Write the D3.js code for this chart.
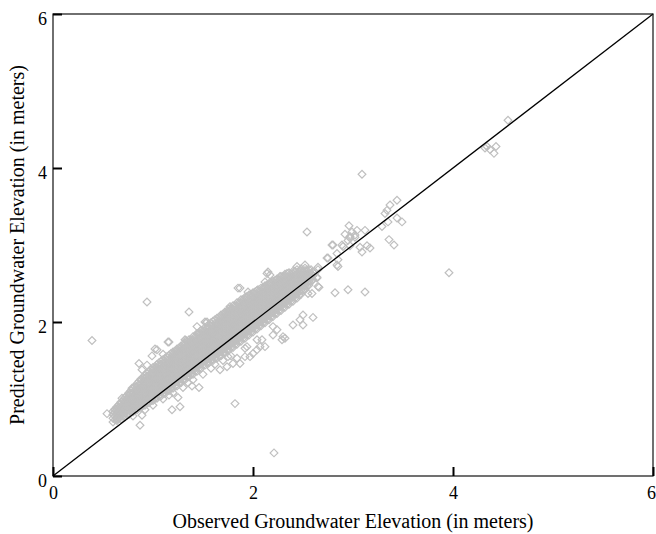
<!DOCTYPE html>
<html>
<head>
<meta charset="utf-8">
<script src="https://cdn.jsdelivr.net/npm/d3@7"></script>
<style>
  body { margin: 0; background: #fff; }
  text { font-family: "Liberation Serif", "Times New Roman", serif; fill: #000; }
</style>
</head>
<body>
<svg id="chart" width="656" height="534"></svg>
<script>
const xTicks = [0, 2, 4, 6];
const yTicks = [0, 2, 4, 6];
const xTitle = 'Observed Groundwater Elevation (in meters)';
const yTitle = 'Predicted Groundwater Elevation (in meters)';

// dense part of the cloud, read column by column: [observed, [predicted...]]
const denseColumns = [
  [0.60, [0.70, 0.75, 0.80, 0.84]],
  [0.62, [0.73, 0.78, 0.83, 0.87]],
  [0.64, [0.72, 0.77, 0.82, 0.87, 0.90]],
  [0.66, [0.75, 0.80, 0.85, 0.90, 0.93]],
  [0.68, [0.74, 0.79, 0.84, 0.89, 0.94, 0.96]],
  [0.70, [0.78, 0.83, 0.88, 0.93, 0.98]],
  [0.72, [0.77, 0.82, 0.87, 0.92, 0.97, 1.02]],
  [0.74, [0.80, 0.85, 0.90, 0.95, 1.00, 1.05]],
  [0.76, [0.80, 0.85, 0.90, 0.95, 1.00, 1.05, 1.08]],
  [0.78, [0.83, 0.88, 0.93, 0.98, 1.03, 1.08, 1.11]],
  [0.80, [0.83, 0.88, 0.93, 0.98, 1.03, 1.08, 1.14]],
  [0.82, [0.86, 0.91, 0.96, 1.01, 1.06, 1.11, 1.16]],
  [0.84, [0.86, 0.91, 0.96, 1.01, 1.06, 1.11, 1.16, 1.20]],
  [0.86, [0.89, 0.94, 0.99, 1.04, 1.09, 1.14, 1.19, 1.23]],
  [0.88, [0.89, 0.94, 0.99, 1.04, 1.09, 1.14, 1.19, 1.24, 1.26]],
  [0.90, [0.92, 0.97, 1.02, 1.07, 1.12, 1.17, 1.22, 1.27]],
  [0.92, [0.92, 0.97, 1.02, 1.07, 1.12, 1.17, 1.22, 1.27, 1.31]],
  [0.94, [0.95, 1.00, 1.05, 1.10, 1.15, 1.20, 1.25, 1.30, 1.33]],
  [0.96, [0.95, 1.00, 1.05, 1.10, 1.15, 1.20, 1.25, 1.30, 1.36]],
  [0.98, [0.98, 1.03, 1.08, 1.13, 1.18, 1.23, 1.28, 1.33, 1.38]],
  [1.00, [0.98, 1.03, 1.08, 1.13, 1.18, 1.23, 1.28, 1.33, 1.38, 1.41]],
  [1.02, [1.01, 1.06, 1.11, 1.16, 1.21, 1.26, 1.31, 1.36, 1.41]],
  [1.04, [1.01, 1.06, 1.11, 1.16, 1.21, 1.26, 1.31, 1.36, 1.41, 1.45]],
  [1.06, [1.04, 1.09, 1.14, 1.19, 1.24, 1.29, 1.34, 1.39, 1.44, 1.47]],
  [1.08, [1.04, 1.09, 1.14, 1.19, 1.24, 1.29, 1.34, 1.39, 1.44, 1.49]],
  [1.10, [1.07, 1.12, 1.17, 1.22, 1.27, 1.32, 1.37, 1.42, 1.47, 1.51]],
  [1.12, [1.07, 1.12, 1.17, 1.22, 1.27, 1.32, 1.37, 1.42, 1.47, 1.53]],
  [1.14, [1.11, 1.16, 1.21, 1.26, 1.31, 1.36, 1.41, 1.46, 1.51, 1.55]],
  [1.16, [1.11, 1.16, 1.21, 1.26, 1.31, 1.36, 1.41, 1.46, 1.51, 1.57]],
  [1.18, [1.14, 1.19, 1.24, 1.29, 1.34, 1.39, 1.44, 1.49, 1.54, 1.59]],
  [1.20, [1.14, 1.19, 1.24, 1.29, 1.34, 1.39, 1.44, 1.49, 1.54, 1.58, 1.61]],
  [1.22, [1.17, 1.22, 1.27, 1.32, 1.37, 1.42, 1.47, 1.52, 1.57, 1.62]],
  [1.24, [1.17, 1.22, 1.27, 1.32, 1.37, 1.42, 1.47, 1.52, 1.57, 1.62, 1.65]],
  [1.26, [1.21, 1.26, 1.31, 1.36, 1.41, 1.46, 1.51, 1.56, 1.61, 1.66]],
  [1.28, [1.21, 1.26, 1.31, 1.36, 1.41, 1.46, 1.51, 1.56, 1.61, 1.66, 1.69]],
  [1.30, [1.25, 1.30, 1.35, 1.40, 1.45, 1.50, 1.55, 1.60, 1.65, 1.70]],
  [1.32, [1.25, 1.30, 1.35, 1.40, 1.45, 1.50, 1.55, 1.60, 1.65, 1.70, 1.73]],
  [1.34, [1.29, 1.34, 1.39, 1.44, 1.49, 1.54, 1.59, 1.64, 1.69, 1.74]],
  [1.36, [1.29, 1.34, 1.39, 1.44, 1.49, 1.54, 1.59, 1.64, 1.69, 1.74, 1.77]],
  [1.38, [1.32, 1.37, 1.42, 1.47, 1.52, 1.57, 1.62, 1.67, 1.72, 1.77]],
  [1.40, [1.32, 1.37, 1.42, 1.47, 1.52, 1.57, 1.62, 1.67, 1.72, 1.77, 1.81]],
  [1.42, [1.36, 1.41, 1.46, 1.51, 1.56, 1.61, 1.66, 1.71, 1.76, 1.81]],
  [1.44, [1.36, 1.41, 1.46, 1.51, 1.56, 1.61, 1.66, 1.71, 1.76, 1.81, 1.85]],
  [1.46, [1.40, 1.45, 1.50, 1.55, 1.60, 1.65, 1.70, 1.75, 1.80, 1.85]],
  [1.48, [1.40, 1.45, 1.50, 1.55, 1.60, 1.65, 1.70, 1.75, 1.80, 1.85, 1.89]],
  [1.50, [1.44, 1.49, 1.54, 1.59, 1.64, 1.69, 1.74, 1.79, 1.84, 1.89]],
  [1.52, [1.44, 1.49, 1.54, 1.59, 1.64, 1.69, 1.74, 1.79, 1.84, 1.89, 1.93]],
  [1.54, [1.47, 1.52, 1.57, 1.62, 1.67, 1.72, 1.77, 1.82, 1.87, 1.92]],
  [1.56, [1.47, 1.52, 1.57, 1.62, 1.67, 1.72, 1.77, 1.82, 1.87, 1.92, 1.97]],
  [1.58, [1.50, 1.55, 1.60, 1.65, 1.70, 1.75, 1.80, 1.85, 1.90, 1.95, 1.99]],
  [1.60, [1.50, 1.55, 1.60, 1.65, 1.70, 1.75, 1.80, 1.85, 1.90, 1.95, 2.01]],
  [1.62, [1.53, 1.58, 1.63, 1.68, 1.73, 1.78, 1.83, 1.88, 1.93, 1.98, 2.03]],
  [1.64, [1.53, 1.58, 1.63, 1.68, 1.73, 1.78, 1.83, 1.88, 1.93, 1.98, 2.05]],
  [1.66, [1.56, 1.61, 1.66, 1.71, 1.76, 1.81, 1.86, 1.91, 1.96, 2.01, 2.06]],
  [1.68, [1.56, 1.61, 1.66, 1.71, 1.76, 1.81, 1.86, 1.91, 1.96, 2.01, 2.06, 2.09]],
  [1.70, [1.60, 1.65, 1.70, 1.75, 1.80, 1.85, 1.90, 1.95, 2.00, 2.05, 2.10]],
  [1.72, [1.60, 1.65, 1.70, 1.75, 1.80, 1.85, 1.90, 1.95, 2.00, 2.05, 2.10, 2.13]],
  [1.74, [1.64, 1.69, 1.74, 1.79, 1.84, 1.89, 1.94, 1.99, 2.04, 2.09, 2.14]],
  [1.76, [1.64, 1.69, 1.74, 1.79, 1.84, 1.89, 1.94, 1.99, 2.04, 2.09, 2.14, 2.17]],
  [1.78, [1.67, 1.72, 1.77, 1.82, 1.87, 1.92, 1.97, 2.02, 2.07, 2.12, 2.17]],
  [1.80, [1.67, 1.72, 1.77, 1.82, 1.87, 1.92, 1.97, 2.02, 2.07, 2.12, 2.17, 2.21]],
  [1.82, [1.71, 1.76, 1.81, 1.86, 1.91, 1.96, 2.01, 2.06, 2.11, 2.16, 2.21]],
  [1.84, [1.71, 1.76, 1.81, 1.86, 1.91, 1.96, 2.01, 2.06, 2.11, 2.16, 2.21, 2.25]],
  [1.86, [1.75, 1.80, 1.85, 1.90, 1.95, 2.00, 2.05, 2.10, 2.15, 2.20, 2.25]],
  [1.88, [1.75, 1.80, 1.85, 1.90, 1.95, 2.00, 2.05, 2.10, 2.15, 2.20, 2.25, 2.29]],
  [1.90, [1.79, 1.84, 1.89, 1.94, 1.99, 2.04, 2.09, 2.14, 2.19, 2.24, 2.29]],
  [1.92, [1.79, 1.84, 1.89, 1.94, 1.99, 2.04, 2.09, 2.14, 2.19, 2.24, 2.29, 2.32]],
  [1.94, [1.83, 1.88, 1.93, 1.98, 2.03, 2.08, 2.13, 2.18, 2.23, 2.28, 2.33]],
  [1.96, [1.83, 1.88, 1.93, 1.98, 2.03, 2.08, 2.13, 2.18, 2.23, 2.28, 2.35]],
  [1.98, [1.87, 1.92, 1.97, 2.02, 2.07, 2.12, 2.17, 2.22, 2.27, 2.32, 2.36]],
  [2.00, [1.87, 1.92, 1.97, 2.02, 2.07, 2.12, 2.17, 2.22, 2.27, 2.32, 2.38]],
  [2.02, [1.91, 1.96, 2.01, 2.06, 2.11, 2.16, 2.21, 2.26, 2.31, 2.36, 2.39]],
  [2.04, [1.91, 1.96, 2.01, 2.06, 2.11, 2.16, 2.21, 2.26, 2.31, 2.36, 2.41]],
  [2.06, [1.95, 2.00, 2.05, 2.10, 2.15, 2.20, 2.25, 2.30, 2.35, 2.40]],
  [2.08, [1.95, 2.00, 2.05, 2.10, 2.15, 2.20, 2.25, 2.30, 2.35, 2.40, 2.44]],
  [2.10, [1.99, 2.04, 2.09, 2.14, 2.19, 2.24, 2.29, 2.34, 2.39, 2.44]],
  [2.12, [1.99, 2.04, 2.09, 2.14, 2.19, 2.24, 2.29, 2.34, 2.39, 2.44, 2.47]],
  [2.14, [2.03, 2.08, 2.13, 2.18, 2.23, 2.28, 2.33, 2.38, 2.43, 2.48]],
  [2.16, [2.03, 2.08, 2.13, 2.18, 2.23, 2.28, 2.33, 2.38, 2.43, 2.48, 2.50]],
  [2.18, [2.07, 2.12, 2.17, 2.22, 2.27, 2.32, 2.37, 2.42, 2.47, 2.51]],
  [2.20, [2.07, 2.12, 2.17, 2.22, 2.27, 2.32, 2.37, 2.42, 2.47, 2.53]],
  [2.22, [2.11, 2.16, 2.21, 2.26, 2.31, 2.36, 2.41, 2.46, 2.51, 2.54]],
  [2.24, [2.11, 2.16, 2.21, 2.26, 2.31, 2.36, 2.41, 2.46, 2.51, 2.56]],
  [2.26, [2.15, 2.20, 2.25, 2.30, 2.35, 2.40, 2.45, 2.50, 2.55]],
  [2.28, [2.15, 2.20, 2.25, 2.30, 2.35, 2.40, 2.45, 2.50, 2.55, 2.59]],
  [2.30, [2.19, 2.24, 2.29, 2.34, 2.39, 2.44, 2.49, 2.54, 2.59]],
  [2.32, [2.19, 2.24, 2.29, 2.34, 2.39, 2.44, 2.49, 2.54, 2.59, 2.62]],
  [2.34, [2.23, 2.28, 2.33, 2.38, 2.43, 2.48, 2.53, 2.58, 2.63]],
  [2.36, [2.23, 2.28, 2.33, 2.38, 2.43, 2.48, 2.53, 2.58, 2.64]],
  [2.38, [2.27, 2.32, 2.37, 2.42, 2.47, 2.52, 2.57, 2.62]],
  [2.40, [2.27, 2.32, 2.37, 2.42, 2.47, 2.52, 2.57, 2.62, 2.66]],
  [2.42, [2.31, 2.36, 2.41, 2.46, 2.51, 2.56, 2.61, 2.66]],
  [2.44, [2.31, 2.36, 2.41, 2.46, 2.51, 2.56, 2.61, 2.68]],
  [2.46, [2.35, 2.40, 2.45, 2.50, 2.55, 2.60, 2.65]],
  [2.48, [2.36, 2.41, 2.46, 2.51, 2.56, 2.61, 2.66, 2.69]],
  [2.50, [2.41, 2.46, 2.51, 2.56, 2.61, 2.66]],
  [2.52, [2.42, 2.47, 2.52, 2.57, 2.62, 2.67, 2.70]],
  [2.54, [2.47, 2.52, 2.57, 2.62, 2.67]],
  [2.56, [2.48, 2.53, 2.58, 2.63, 2.68]],
  [2.58, [2.53, 2.58, 2.63, 2.68]],
  [2.60, [2.55, 2.60, 2.65]]
];

// single diamonds around the cloud: [observed, predicted]
const scatteredPoints = [
  [0.39, 1.76], [0.94, 2.26], [1.36, 2.13], [1.16, 1.74], [1.44, 1.94], [1.53, 1.99],
  [1.33, 1.76], [1.45, 1.85], [1.77, 2.20], [1.02, 1.65], [1.10, 1.58], [0.99, 1.56],
  [0.86, 1.46], [0.94, 1.44], [0.89, 1.38], [1.09, 1.45], [0.97, 1.32], [0.79, 1.14],
  [0.69, 1.01], [0.77, 1.07], [0.54, 0.81], [0.62, 0.86], [0.70, 0.88], [0.74, 0.79],
  [0.64, 0.74], [0.89, 0.79], [0.87, 0.66], [1.19, 0.86], [1.27, 0.90], [1.82, 0.94],
  [1.16, 1.05], [1.25, 1.02], [1.39, 1.17], [1.46, 1.15], [1.35, 1.21], [1.67, 1.38],
  [1.74, 1.42], [1.80, 1.46], [1.84, 1.53], [1.92, 1.55], [2.00, 1.59], [1.92, 1.66],
  [2.07, 1.68], [2.09, 1.77], [2.24, 1.90], [2.29, 1.77], [2.32, 1.79], [2.40, 1.96],
  [2.50, 1.96], [2.50, 2.09], [2.60, 2.06], [2.55, 2.37], [2.59, 2.37], [2.64, 2.57],
  [2.82, 2.38], [2.95, 2.42], [2.80, 3.00], [2.90, 2.98], [2.97, 3.11], [3.02, 3.13],
  [2.85, 2.72], [2.75, 2.83], [2.65, 2.68], [2.54, 3.17], [1.85, 2.44], [1.95, 2.39],
  [2.15, 2.65], [2.17, 2.61], [1.52, 2.00], [1.32, 1.77], [1.75, 1.55], [1.94, 1.68],
  [2.04, 1.77], [2.20, 1.94], [3.09, 3.92], [3.44, 3.58], [3.37, 3.52], [3.34, 3.45],
  [3.32, 3.41], [3.29, 3.24], [3.35, 3.30], [3.44, 3.35], [3.49, 3.30], [3.36, 3.07],
  [3.41, 3.00], [2.96, 3.25], [2.92, 3.14], [2.99, 3.17], [3.04, 3.19], [3.12, 3.19],
  [2.95, 3.06], [3.02, 3.10], [2.89, 3.00], [2.79, 3.00], [3.07, 2.97], [3.09, 2.91],
  [3.17, 2.96], [3.14, 2.99], [2.97, 2.99], [2.74, 2.83], [2.85, 2.81], [2.84, 2.74],
  [2.65, 2.71], [2.64, 2.58], [3.12, 2.39], [3.96, 2.64], [4.55, 4.62], [4.34, 4.28],
  [4.32, 4.26], [4.43, 4.28], [4.41, 4.19], [4.37, 4.24], [2.21, 0.30], [2.12, 2.52],
  [2.27, 2.59], [2.44, 2.72], [2.52, 2.74], [2.65, 2.46], [1.87, 2.44], [2.47, 2.03],
  [2.20, 1.83], [2.30, 1.81], [2.84, 2.89], [2.97, 3.09], [2.05, 2.42], [2.14, 2.63],
  [1.54, 2.00], [1.15, 1.74], [1.04, 1.64], [1.97, 1.55], [2.04, 1.64], [2.12, 1.68],
  [1.87, 1.46], [1.40, 1.25], [1.50, 1.32], [1.58, 1.40], [1.62, 1.45], [1.70, 1.50],
  [1.78, 1.56], [1.30, 1.15], [1.20, 1.08], [1.10, 1.00], [1.00, 0.92], [0.92, 0.86],
  [0.80, 0.78], [2.66, 2.45]
];

const perfectFit = [[0, 0], [6, 6]];

const frame = {left: 53, right: 653, top: 14, bottom: 476};

const x = d3.scaleLinear().domain([0, 6]).range([frame.left, frame.right]);
const y = d3.scaleLinear().domain([0, 6]).range([frame.bottom, frame.top]);

const svg = d3.select('#chart');

const allPoints = denseColumns
    .flatMap(([obs, preds]) => preds.map(pred => [obs, pred]))
    .concat(scatteredPoints);

const diamond = d3.symbol().type(d3.symbolSquare).size(30);

svg.append('g')
    .attr('class', 'points')
    .selectAll('path')
    .data(allPoints)
    .join('path')
    .attr('d', diamond)
    .attr('transform', d => `translate(${x(d[0])},${y(d[1])}) rotate(45)`)
    .attr('fill', 'none')
    .attr('stroke', '#bfbfbf')
    .attr('stroke-width', 1.2);

svg.append('path')
    .datum(perfectFit)
    .attr('d', d3.line().x(d => x(d[0])).y(d => y(d[1])))
    .attr('fill', 'none')
    .attr('stroke', '#000')
    .attr('stroke-width', 1.3);

// frame
svg.append('rect')
    .attr('x', frame.left)
    .attr('y', frame.top)
    .attr('width', frame.right - frame.left)
    .attr('height', frame.bottom - frame.top)
    .attr('fill', 'none')
    .attr('stroke', '#111')
    .attr('stroke-width', 1.2);

const xAxis = d3.axisBottom(x).tickValues(xTicks).tickSize(-9).tickPadding(17).tickFormat(d3.format('d'));
const yAxis = d3.axisLeft(y).tickValues(yTicks).tickSize(-9).tickPadding(6).tickFormat(d3.format('d'));

const gx = svg.append('g')
    .attr('transform', `translate(0,${frame.bottom})`)
    .call(xAxis);

const gy = svg.append('g')
    .attr('transform', `translate(${frame.left},0)`)
    .call(yAxis);

[gx, gy].forEach(g => {
  g.select('.domain').remove();
  g.selectAll('.tick line').attr('stroke', '#000').attr('stroke-width', 2);
  g.selectAll('.tick text')
      .attr('font-family', '"Liberation Serif", serif')
      .attr('font-size', 18)
      .attr('fill', '#000');
});

gx.selectAll('.tick text')
    .attr('dy', '0.35em')
    .attr('dx', d => d === 6 ? -2 : 0);
gy.selectAll('.tick text').attr('dy', '0.58em');

svg.append('text')
    .attr('x', (frame.left + frame.right) / 2)
    .attr('y', 528)
    .attr('text-anchor', 'middle')
    .attr('font-size', 20)
    .text(xTitle);

svg.append('text')
    .attr('transform', `translate(24,${(frame.top + frame.bottom) / 2}) rotate(-90)`)
    .attr('text-anchor', 'middle')
    .attr('font-size', 20)
    .text(yTitle);
</script>
</body>
</html>
